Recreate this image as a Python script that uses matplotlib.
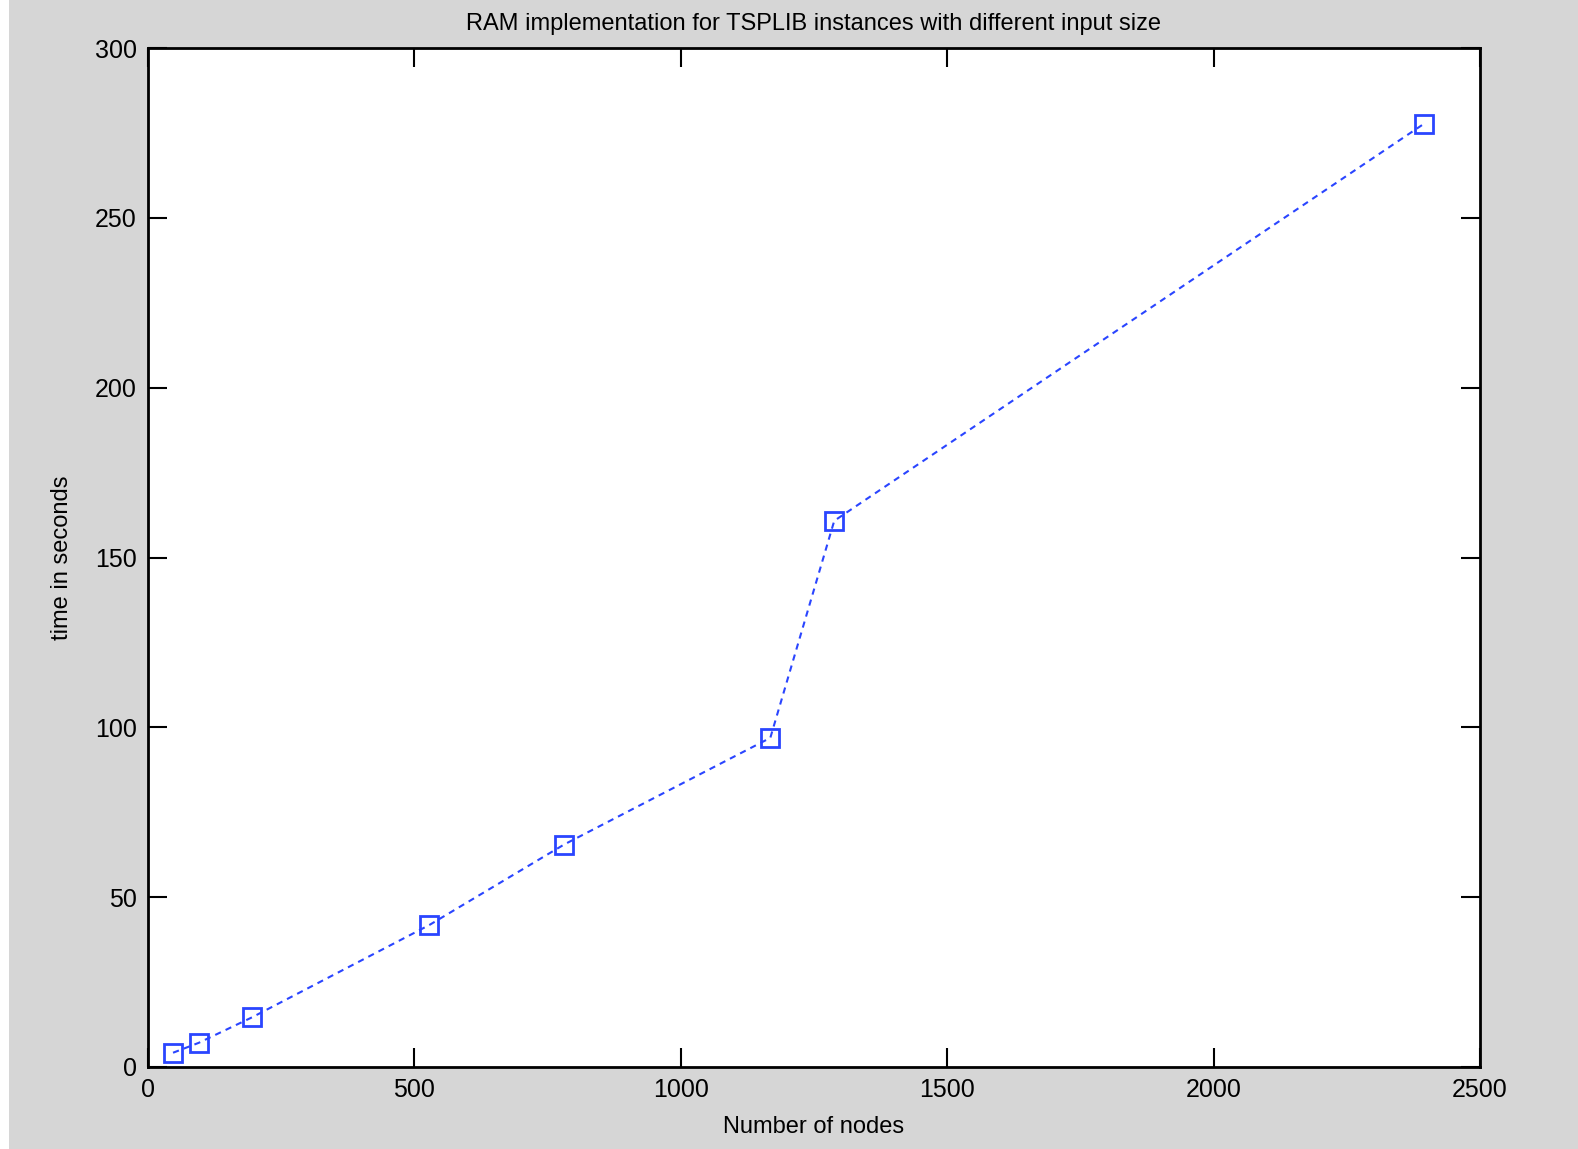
import matplotlib
matplotlib.use("Agg")
import matplotlib.pyplot as plt
from matplotlib.patches import Rectangle

plt.rcParams['font.family'] = ['Liberation Sans', 'DejaVu Sans']

nodes = [47, 95, 195, 528, 781, 1168, 1288, 2394]
times = [4.2, 7.1, 14.6, 41.8, 65.5, 96.9, 160.8, 277.6]
xticks = [0, 500, 1000, 1500, 2000, 2500]
yticks = [0, 50, 100, 150, 200, 250, 300]

fig = plt.figure(figsize=(15.78, 11.49), dpi=100, facecolor='white')
fig.patches.append(Rectangle((9/1578, 0), 1 - 9/1578, 1, transform=fig.transFigure,
                             facecolor='#d6d6d6', edgecolor='none', zorder=-10))
ax = fig.add_axes([148/1578, 1 - 1067/1149, (1480 - 148)/1578, (1067 - 48)/1149])
ax.set_facecolor('white')
ax.plot(nodes, times, linestyle='--', color='#2a45ff', linewidth=1.5, dashes=(3, 2.5),
        marker='s', markersize=13, markerfacecolor='none', markeredgecolor='#2a45ff',
        markeredgewidth=2)
ax.set_xlim(0, 2500)
ax.set_ylim(0, 300)
ax.set_xticks(xticks)
ax.set_yticks(yticks)
ax.tick_params(direction='in', length=14, width=1.5, top=True, right=True,
               labelsize=18, pad=8, colors='black')
for s in ax.spines.values():
    s.set_linewidth(2)
ax.set_title('RAM implementation for TSPLIB instances with different input size',
             fontsize=17, pad=13)
ax.set_xlabel('Number of nodes', fontsize=17, labelpad=10)
ax.set_ylabel('time in seconds', fontsize=17, labelpad=16)
fig.savefig('out.png', dpi=100, facecolor=fig.get_facecolor())
